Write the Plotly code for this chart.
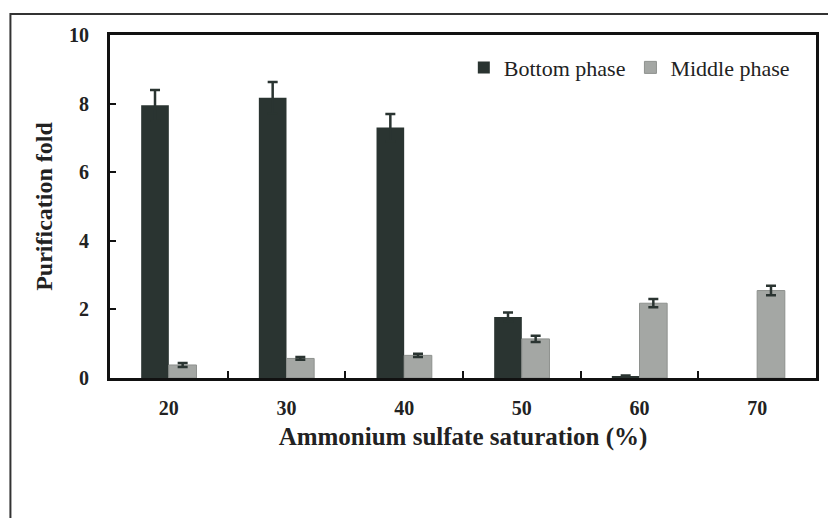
import plotly.graph_objects as go

categories = ["20", "30", "40", "50", "60", "70"]
bottom_phase = [7.95, 8.17, 7.30, 1.78, 0.05, None]
bottom_err = [0.45, 0.46, 0.40, 0.13, 0.02, None]
middle_phase = [0.38, 0.57, 0.66, 1.14, 2.18, 2.55]
middle_err = [0.06, 0.04, 0.05, 0.09, 0.12, 0.14]

serif = "Times New Roman, Liberation Serif, serif"
dark = "#2a3431"
light = "#a4a7a4"

fig = go.Figure()
fig.add_trace(go.Bar(
    x=categories, y=bottom_phase, name="Bottom phase",
    marker=dict(color=dark, line=dict(width=0)),
    error_y=dict(type="data", array=bottom_err, color=dark, thickness=2.5, width=5),
))
fig.add_trace(go.Bar(
    x=categories, y=middle_phase, name="Middle phase",
    marker=dict(color=light, line=dict(color="#8e918e", width=1)),
    error_y=dict(type="data", array=middle_err, color=dark, thickness=2.5, width=5),
))

fig.update_layout(
    width=828, height=518,
    margin=dict(l=110, r=9, t=35, b=140),
    paper_bgcolor="white", plot_bgcolor="white",
    barmode="group", bargap=0.53, bargroupgap=0.0,
    font=dict(family=serif, color="#222"),
    showlegend=True,
    legend=dict(
        orientation="h", x=0.97, xanchor="right", y=0.905, yanchor="middle",
        font=dict(family=serif, size=22, color="#222"),
        bgcolor="rgba(0,0,0,0)", itemwidth=30, tracegroupgap=0,
    ),
    xaxis=dict(
        type="category",
        showline=True, linecolor="#111", linewidth=3, mirror=True,
        ticks="inside", tickson="boundaries", ticklen=7, tickwidth=2, tickcolor="#111",
        tickfont=dict(family=serif, size=20, color="#222", weight="bold"),
        ticklabelstandoff=10,
        title=dict(text="<b>Ammonium sulfate saturation (%)</b>",
                   font=dict(family=serif, size=25, color="#222"), standoff=10),
        showgrid=False, zeroline=False,
    ),
    yaxis=dict(
        range=[0, 10], dtick=2,
        showline=True, linecolor="#111", linewidth=3, mirror=True,
        ticks="inside", ticklen=6, tickwidth=2, tickcolor="#111",
        tickfont=dict(family=serif, size=20, color="#222", weight="bold"),
        ticklabelstandoff=14,
        title=dict(text="<b>Purification fold</b>",
                   font=dict(family=serif, size=24, color="#222"), standoff=10),
        showgrid=False, zeroline=False,
    ),
    shapes=[
        dict(type="rect", xref="paper", yref="paper",
             x0=(10 - 110) / 709, x1=(860 - 110) / 709,
             y0=-(560 - 378) / 343, y1=1 + (35 - 14) / 343,
             line=dict(color="#333", width=2), layer="below"),
    ],
)

fig.write_html("out.html")
